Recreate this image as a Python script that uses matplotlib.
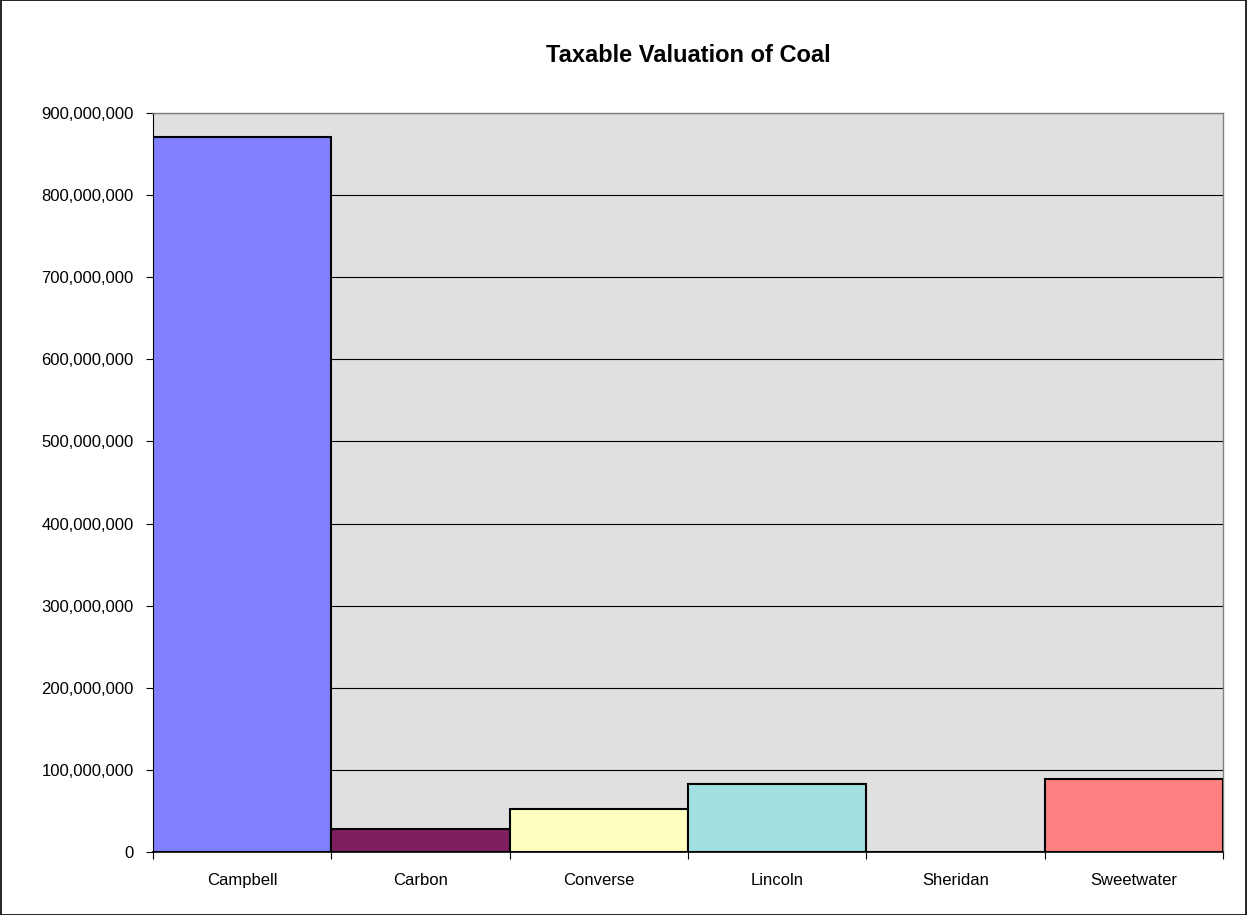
import matplotlib
matplotlib.use("Agg")
import matplotlib.pyplot as plt
from matplotlib.ticker import FuncFormatter, FixedLocator
import numpy as np

categories = ["Campbell", "Carbon", "Converse", "Lincoln", "Sheridan", "Sweetwater"]
values = [870400000, 28500000, 52900000, 83300000, 500000, 89400000]
colors = ["#8080FF", "#7F1F5F", "#FFFFC0", "#A0E0E0", "#E0E0E0", "#FF8080"]
yticks = list(range(0, 900000001, 100000000))

plt.rcParams['font.family'] = ['Liberation Sans', 'DejaVu Sans']

fig = plt.figure(figsize=(12.47, 9.15), dpi=100)
fig.patches.append(plt.Rectangle((0.0005, 0.0005), 0.999, 0.999, transform=fig.transFigure,
                                 fill=False, edgecolor='black', linewidth=1.2))
ax = fig.add_axes([153/1247, 1-852/915, (1223-153)/1247, (852-113)/915])
ax.set_facecolor("#E0E0E0")

x = np.arange(len(categories))
ax.bar(x, values, width=1.0, color=colors, edgecolor='black', linewidth=1.5, zorder=3)

ax.set_xlim(-0.5, len(categories) - 0.5)
ax.set_ylim(0, 900000000)
ax.set_yticks(yticks)
ax.yaxis.set_major_formatter(FuncFormatter(lambda v, p: f"{int(v):,}"))
ax.yaxis.grid(True, color='black', linewidth=0.8, zorder=1)
ax.set_axisbelow(True)

ax.set_xticks(x)
ax.set_xticklabels(categories)
ax.xaxis.set_minor_locator(FixedLocator(np.arange(-0.5, len(categories), 1.0)))
ax.tick_params(axis='x', which='major', length=0, pad=15, labelsize=12)
ax.tick_params(axis='x', which='minor', length=5, color='black', width=0.8)
ax.tick_params(axis='y', length=5, color='black', width=0.8, labelsize=12, pad=9)

for s in ['top', 'right']:
    ax.spines[s].set_color('#808080')
    ax.spines[s].set_linewidth(1.0)
ax.spines['left'].set_color('black')
ax.spines['bottom'].set_color('black')
ax.spines['bottom'].set_linewidth(1.2)

fig.text((153+1223)/2/1247, 1-55/915, "Taxable Valuation of Coal", ha='center', va='center',
         fontsize=17, fontweight='bold')

fig.savefig("out.png", dpi=100)
